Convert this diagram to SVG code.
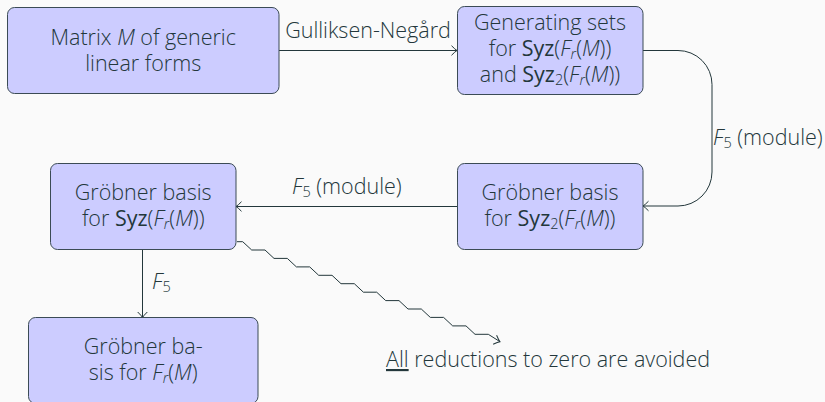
<svg xmlns="http://www.w3.org/2000/svg" width="825" height="402" viewBox="0 0 825 402">
  <style>
    .bg { fill: #fafafa; }
    .box { fill: #ccccff; stroke: #3b4b55; stroke-width: 1; }
    .t { font-family: "Open Sans", "Noto Sans", "DejaVu Sans", sans-serif; font-size: 21.5px; font-weight: 300; fill: #23373b; }
    .c { text-anchor: middle; }
    .it { font-style: italic; }
    .op { font-weight: 400; }
    .sub { font-size: 14.5px; }
    .edge { fill: none; stroke: #23373b; stroke-width: 1; }
  </style>
  <defs>
    <marker id="to" markerUnits="userSpaceOnUse" markerWidth="12" markerHeight="12" viewBox="-7 -6 8 12" refX="0" refY="0" orient="auto">
      <path d="M-5.5,-4.8 Q-1.8,-1 0,0 Q-1.8,1 -5.5,4.8" fill="none" stroke="#23373b" stroke-width="1"/>
    </marker>
    <marker id="to-slant" markerUnits="userSpaceOnUse" markerWidth="12" markerHeight="12" viewBox="-7 -6 8 12" refX="0" refY="0" orient="21">
      <path d="M-5.5,-4.8 Q-1.8,-1 0,0 Q-1.8,1 -5.5,4.8" fill="none" stroke="#23373b" stroke-width="1"/>
    </marker>
  </defs>

  <rect class="bg" x="0" y="0" width="825" height="402"/>

  <!-- connectors -->
  <g id="connectors">
    <path class="edge" d="M279,50.5 H457" marker-end="url(#to)"/>
    <text class="t c" x="368" y="37.5">Gulliksen-Negård</text>

    <path class="edge" d="M643,50.5 H678 A34,34 0 0 1 712,84.5 V172 A34,34 0 0 1 678,206 H643" marker-end="url(#to)"/>
    <text class="t" x="713" y="145"><tspan class="it">F</tspan><tspan class="sub" dy="3">5</tspan><tspan dy="-3"> (module)</tspan></text>

    <path class="edge" d="M457,206.5 H236" marker-end="url(#to)"/>
    <text class="t" x="292" y="194"><tspan class="it">F</tspan><tspan class="sub" dy="3">5</tspan><tspan dy="-3"> (module)</tspan></text>

    <path class="edge" d="M142.5,249.5 V317.5" marker-end="url(#to)"/>
    <text class="t" x="152" y="289"><tspan class="it">F</tspan><tspan class="sub" dy="3">5</tspan></text>

    <path class="edge" marker-end="url(#to-slant)" d="M237,241.7 H242.7 L251.7,250 H265 L274,258.4 H287.3 L296.4,266.9 H309.7 L318.7,275.3 H332 L341,283.7 H354.3 L363.4,292.2 H376.7 L385.7,300.6 H399 L408,309 H421.3 L430.3,317.4 H443.6 L452.7,325.9 H466 L475,334.3 H488.3 L500,341.7"/>
  </g>

  <g id="matrix">
    <rect class="box" x="7.5" y="7.5" width="271.5" height="86" rx="7"/>
    <text class="t c" x="143.2" y="45">Matrix <tspan class="it">M</tspan> of generic</text>
    <text class="t c" x="143.2" y="71">linear forms</text>
  </g>

  <g id="generating-sets">
    <rect class="box" x="457.5" y="6.5" width="185.5" height="88" rx="7"/>
    <text class="t c" x="550" y="30">Generating sets</text>
    <text class="t c" x="550" y="56">for <tspan class="op">Syz</tspan>(<tspan class="it">F</tspan><tspan class="sub it" dy="3">r</tspan><tspan dy="-3">(</tspan><tspan class="it">M</tspan>))</text>
    <text class="t c" x="550" y="82">and <tspan class="op">Syz</tspan><tspan class="sub" dy="3">2</tspan><tspan dy="-3">(</tspan><tspan class="it">F</tspan><tspan class="sub it" dy="3">r</tspan><tspan dy="-3">(</tspan><tspan class="it">M</tspan>))</text>
  </g>

  <g id="groebner-syz2">
    <rect class="box" x="457.5" y="163.5" width="185.5" height="86" rx="7"/>
    <text class="t c" x="550" y="199.5">Gröbner basis</text>
    <text class="t c" x="550" y="226">for <tspan class="op">Syz</tspan><tspan class="sub" dy="3">2</tspan><tspan dy="-3">(</tspan><tspan class="it">F</tspan><tspan class="sub it" dy="3">r</tspan><tspan dy="-3">(</tspan><tspan class="it">M</tspan>))</text>
  </g>

  <g id="groebner-syz">
    <rect class="box" x="50.5" y="163.5" width="185.5" height="86" rx="7"/>
    <text class="t c" x="143.2" y="199.5">Gröbner basis</text>
    <text class="t c" x="143.2" y="226">for <tspan class="op">Syz</tspan>(<tspan class="it">F</tspan><tspan class="sub it" dy="3">r</tspan><tspan dy="-3">(</tspan><tspan class="it">M</tspan>))</text>
  </g>

  <g id="groebner-fr">
    <rect class="box" x="28.5" y="317.5" width="229.5" height="86" rx="7"/>
    <text class="t c" x="143.2" y="353.5">Gröbner ba-</text>
    <text class="t c" x="143.2" y="379.5">sis for <tspan class="it">F</tspan><tspan class="sub it" dy="3">r</tspan><tspan dy="-3">(</tspan><tspan class="it">M</tspan>)</text>
  </g>

  <g id="note">
    <text class="t" x="386" y="367"><tspan text-decoration="underline">All</tspan> reductions to zero are avoided</text>
  </g>
</svg>
